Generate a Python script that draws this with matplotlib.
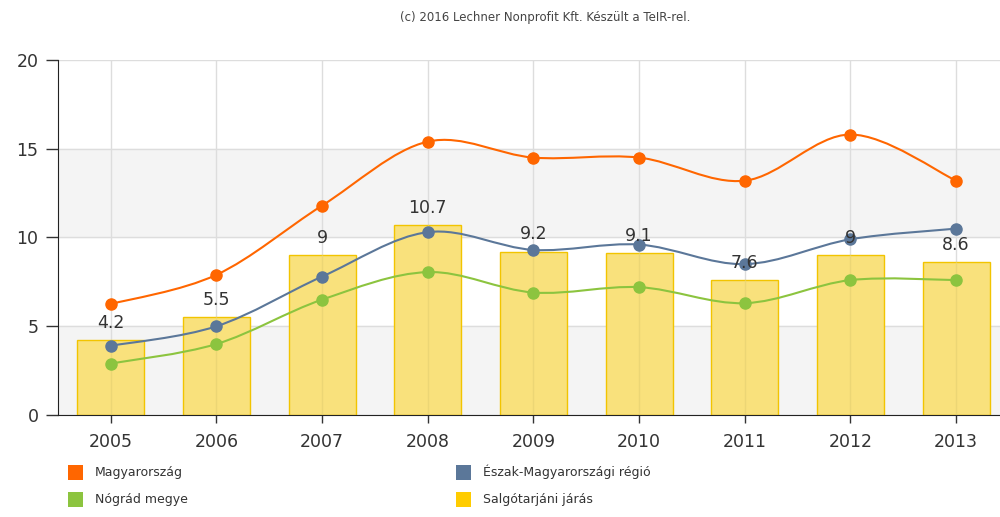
import numpy as np
import matplotlib
matplotlib.use("Agg")
from matplotlib import pyplot as plt
from matplotlib.path import Path
from matplotlib.patches import PathPatch, Rectangle

years = ["2005", "2006", "2007", "2008", "2009", "2010", "2011", "2012", "2013"]
jaras = [4.2, 5.5, 9, 10.7, 9.2, 9.1, 7.6, 9, 8.6]
magyarorszag = [6.25, 7.9, 11.8, 15.4, 14.5, 14.5, 13.2, 15.8, 13.2]
regio = [3.9, 5.0, 7.8, 10.3, 9.3, 9.6, 8.5, 9.9, 10.5]
nograd = [2.9, 4.0, 6.5, 8.05, 6.9, 7.2, 6.3, 7.6, 7.6]

c_orange = "#ff6600"
c_blue = "#5b7799"
c_green = "#8cc43f"
c_yellow = "#ffcc00"


def spline_path(xs, ys):
    # cubic bezier through the points (catmull-rom style control points)
    pts = np.column_stack([xs, ys]).astype(float)
    n = len(pts)
    verts = [pts[0]]
    codes = [Path.MOVETO]
    for i in range(n - 1):
        p0 = pts[i - 1] if i > 0 else pts[i]
        p1 = pts[i]
        p2 = pts[i + 1]
        p3 = pts[i + 2] if i + 2 < n else pts[i + 1]
        c1 = p1 + (p2 - p0) / 6.0
        c2 = p2 - (p3 - p1) / 6.0
        verts += [c1, c2, p2]
        codes += [Path.CURVE4] * 3
    return Path(verts, codes)


fig = plt.figure(figsize=(10, 5.17), dpi=100)
ax = fig.add_axes([0.058, 0.1973, 0.951, 0.6867])

x = np.arange(len(years))

# background bands
ax.axhspan(0, 5, color="#f4f4f4", zorder=0)
ax.axhspan(10, 15, color="#f4f4f4", zorder=0)

ax.bar(x, jaras, width=0.635, color="#f9e17c", edgecolor="#f2c400", linewidth=1, zorder=2)
# faint grid line showing through each bar
ax.vlines(x, 0, jaras, color="#ecd675", lw=1, zorder=2.5)
for xi, v in zip(x, jaras):
    ax.annotate(f"{v:g}", (xi, v), xytext=(0, 6), textcoords="offset points",
                ha="center", va="bottom", fontsize=12.5, color="#333333", zorder=6)

for vals, col in [(nograd, c_green), (regio, c_blue), (magyarorszag, c_orange)]:
    ax.add_patch(PathPatch(spline_path(x, vals), facecolor="none", edgecolor=col, lw=1.5, zorder=4))
    ax.plot(x, vals, linestyle="none", marker="o", markersize=8, color=col, zorder=5)

ax.set_xlim(-0.5, 8.5)
ax.set_ylim(0, 20)
ax.set_yticks([0, 5, 10, 15, 20])
ax.set_xticks(x)
ax.set_xticklabels(years)
ax.tick_params(axis="y", length=9, width=1, labelsize=12.5, colors="#333333", pad=5)
ax.tick_params(axis="x", length=6, width=1, labelsize=12.5, colors="#333333", pad=7)
ax.grid(True, color="#dddddd", lw=1, zorder=1)
ax.set_axisbelow(True)
for s in ["top", "right"]:
    ax.spines[s].set_visible(False)
ax.spines["left"].set_color("#222222")
ax.spines["bottom"].set_color("#222222")

fig.text(0.545, 0.966, "(c) 2016 Lechner Nonprofit Kft. Készült a TeIR-rel.",
         ha="center", va="center", fontsize=8.5, color="#444444")

legend = [("Magyarország", c_orange, 0.068, 0.087), ("Észak-Magyarországi régió", c_blue, 0.456, 0.087),
          ("Nógrád megye", c_green, 0.068, 0.033), ("Salgótarjáni járás", c_yellow, 0.456, 0.033)]
for name, col, lx, ly in legend:
    fig.add_artist(Rectangle((lx, ly - 0.0145), 0.015, 0.029, transform=fig.transFigure,
                             facecolor=col, edgecolor="none"))
    fig.text(lx + 0.027, ly, name, ha="left", va="center", fontsize=9, color="#333333")

fig.savefig("out.png", dpi=100)
